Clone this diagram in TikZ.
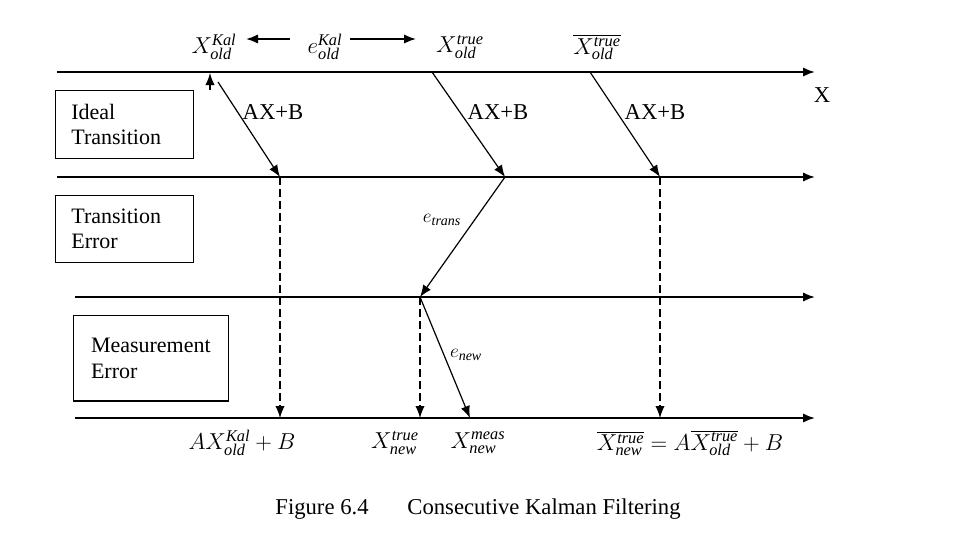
\documentclass[tikz,border=0pt]{standalone}
\usepackage{fontspec}
\setmainfont{Liberation Serif}
\usetikzlibrary{arrows.meta}
\begin{document}
\begin{tikzpicture}[x=0.75pt,y=-0.75pt,
  ln/.style={line width=1.5pt,-{Latex[length=9pt,width=7pt]}},
  ar/.style={line width=0.9pt,-{Latex[length=9pt,width=7pt]}},
  da/.style={ar,dash pattern=on 6pt off 3pt},
  bx/.style={draw,line width=1pt,align=left,anchor=north west,inner sep=0pt,font=\fontsize{16.5}{19}\selectfont},
  lb/.style={font=\fontsize{15}{17}\selectfont},
  cp/.style={font=\fontsize{17}{19}\selectfont},
  mt/.style={font=\fontsize{17.5}{20}\selectfont}]
\useasboundingbox (0,0) rectangle (960,540);
% horizontal lines
\coordinate (a0) at (57,72);  \coordinate (a1) at (815,72);
\coordinate (b0) at (57,177); \coordinate (b1) at (815,177);
\coordinate (c0) at (75,297); \coordinate (c1) at (815,297);
\coordinate (d0) at (75,418); \coordinate (d1) at (815,418);
\draw[ln] (a0)--(a1); \draw[ln] (b0)--(b1); \draw[ln] (c0)--(c1); \draw[ln] (d0)--(d1);
\node[cp] (X) at (822,95) {X};
% boxes
\node[bx,minimum width=103.5pt,minimum height=51pt] (box1) at (55,90) {\hspace{10pt}\parbox{90pt}{Ideal\\Transition}};
\node[bx,minimum width=103.5pt,minimum height=50pt] (box2) at (55,195) {\hspace{10pt}\parbox{90pt}{Transition\\Error}};
\node[bx,minimum width=116pt,minimum height=64pt] (box3) at (73,315) {\hspace{10pt}\parbox{100pt}{Measurement\\Error}};
% points
\coordinate (p1) at (218,82); \coordinate (q1) at (280,177);
\coordinate (p2) at (432,72); \coordinate (q2) at (505,177);
\coordinate (p3) at (590,72); \coordinate (q3) at (660,177);
\coordinate (r) at (420,297);
\coordinate (s1) at (280,418); \coordinate (s2) at (420,418);
\coordinate (s3) at (470,418); \coordinate (s4) at (660,418);
\coordinate (u0) at (210,90); \coordinate (u1) at (210,73);
\draw[ar] (u0)--(u1);
\draw[ar] (p1)--(q1); \draw[ar] (p2)--(q2); \draw[ar] (p3)--(q3);
\node[cp] (ax1) at (273,112) {AX+B};
\node[cp] (ax2) at (498,112) {AX+B};
\node[cp] (ax3) at (655,112) {AX+B};
\draw[da] (q1)--(s1); \draw[da] (q3)--(s4);
\draw[ar] (q2)--(r);
\node[lb] (et) at (442,220) {$e_{\mathit{trans}}$};
\draw[da] (r)--(s2);
\draw[ar] (r)--(s3);
\node[lb] (en) at (466,355) {$e_{\mathit{new}}$};
% top labels
\node[mt] (xk) at (214,47) {$X^{\mathit{Kal}}_{\mathit{old}}$};
\node[mt] (ek) at (325,47) {$e^{\mathit{Kal}}_{\mathit{old}}$};
\node[mt] (xt) at (460,47) {$X^{\mathit{true}}_{\mathit{old}}$};
\node[mt] (xb) at (597,47) {$\overline{X^{\mathit{true}}_{\mathit{old}}}$};
\coordinate (t0) at (290,39); \coordinate (t1) at (246,39);
\coordinate (t2) at (350,39); \coordinate (t3) at (416,39);
\draw[ar,line width=1.4pt] (t0)--(t1);
\draw[ar,line width=1.4pt] (t2)--(t3);
% bottom labels
\node[mt] (bl1) at (242,443) {$AX^{\mathit{Kal}}_{\mathit{old}}+B$};
\node[mt] (bl2) at (395,443) {$X^{\mathit{true}}_{\mathit{new}}$};
\node[mt] (bl3) at (478,443) {$X^{\mathit{meas}}_{\mathit{new}}$};
\node[mt] (bl4) at (690,443) {$\overline{X^{\mathit{true}}_{\mathit{new}}}=A\overline{X^{\mathit{true}}_{\mathit{old}}}+B$};
% caption
\node[cp] (cap1) at (322,509) {Figure 6.4};
\node[cp] (cap2) at (544,509) {Consecutive Kalman Filtering};
\end{tikzpicture}
\end{document}
